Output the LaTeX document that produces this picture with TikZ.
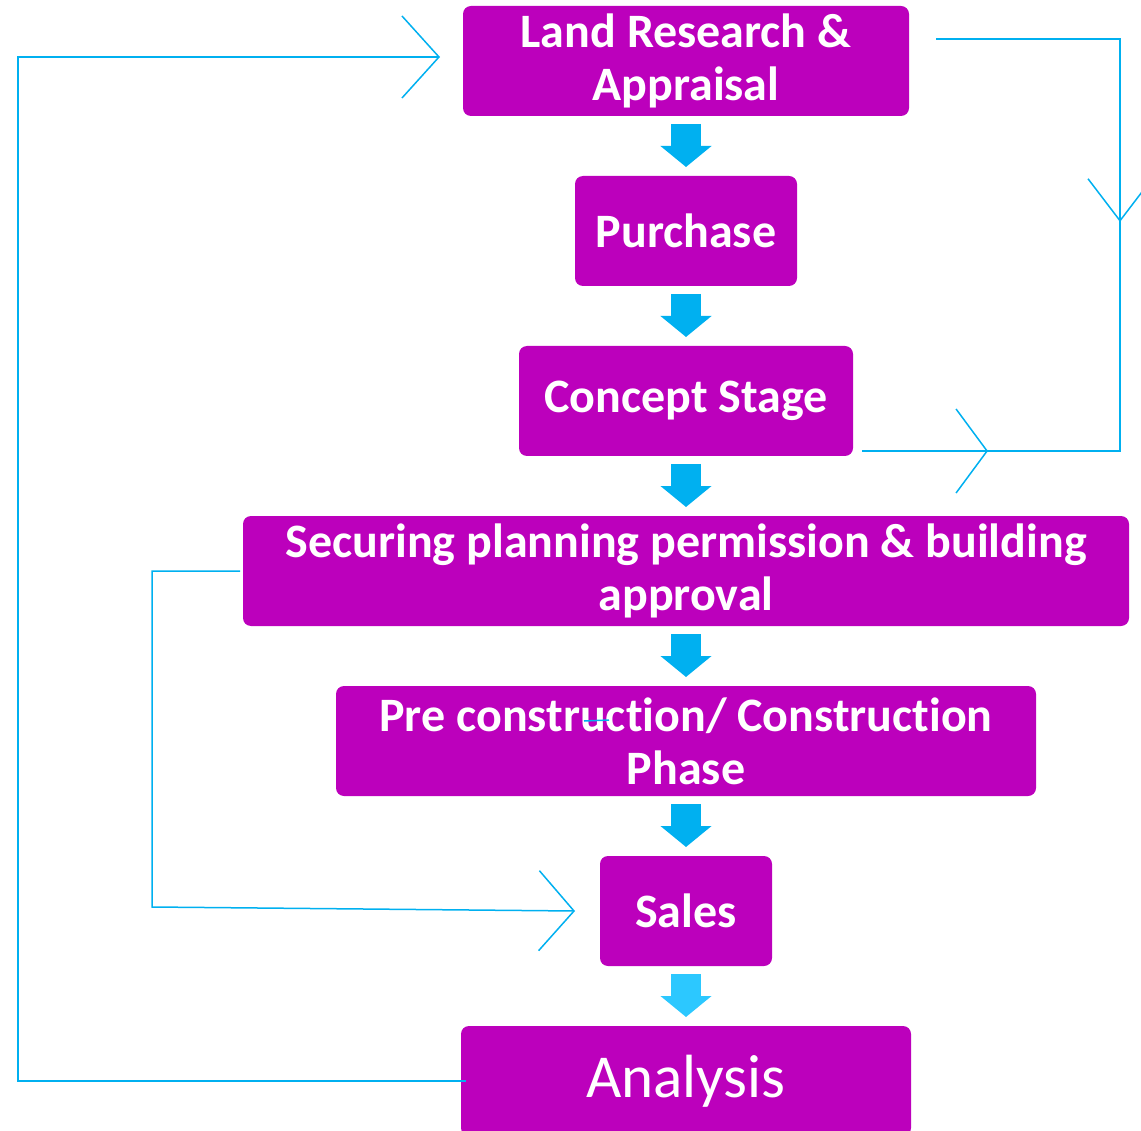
\documentclass[tikz,border=0pt]{standalone}
\usepackage{fontspec}
\setmainfont{Carlito}[Ligatures=NoCommon]
\usetikzlibrary{positioning, arrows.meta}
\definecolor{stagecol}{HTML}{BC00BC}
\definecolor{flowcol}{HTML}{00B0F0}
\definecolor{lastcol}{HTML}{2CC8FF}
\newcommand{\stagefont}{\fontsize{48}{53}\selectfont\bfseries}

\begin{document}
\begin{tikzpicture}[x=1pt, y=1pt,
    Stage/.style = {rectangle, rounded corners=8pt, fill=stagecol, text=white,
        font=\stagefont, align=center, minimum height=110pt, inner sep=0pt, outer sep=0pt},
    Flow/.style = {line width=30pt, flowcol, -{Triangle[width=50pt, length=21pt]}},
    Loop/.style = {line width=1.5pt, flowcol}]
    \path[use as bounding box, clip] (0,0) rectangle (1141,-1131);
    % stages, top to bottom
    \node[Stage, minimum width=446pt] (land) at (686,-61) {Land Research \&\\Appraisal};
    \node[Stage, minimum width=222pt, below=60pt of land] (purchase) {Purchase};
    \node[Stage, minimum width=334pt, below=60pt of purchase] (concept) {Concept Stage};
    \node[Stage, minimum width=886pt, below=60pt of concept] (securing) {Securing planning permission \& building\\approval};
    \node[Stage, minimum width=700pt, below=60pt of securing] (precon) {Pre construction/ Construction\\Phase};
    \node[Stage, minimum width=172pt, below=60pt of precon] (sales) {Sales};
    \node[Stage, minimum width=450pt, below=60pt of sales, font=\fontsize{61}{63}\selectfont] (analysis) {Analysis};
    % block arrows
    \foreach \a/\b in {land/purchase, purchase/concept, concept/securing, securing/precon, precon/sales}
        \draw[Flow] ([yshift=-8pt]\a.south) -- ([yshift=9pt]\b.north);
    \draw[Flow, lastcol] ([yshift=-8pt]sales.south) -- ([yshift=9pt]analysis.north);
    % loop on the right
    \coordinate (rstart) at (936,-39);
    \coordinate (rcorner) at (1120,-39);
    \coordinate (rmid) at (1120,-222);
    \coordinate (rlow) at (1120,-451);
    \coordinate (cstart) at (862,-451);
    \coordinate (cmid) at (988,-451);
    \draw[Loop] (rstart) -- (rcorner) -- (rlow) -- (cstart);
    \draw[Loop, -{Straight Barb[length=42pt, width=64pt]}] (rcorner) -- (rmid);
    \draw[Loop, -{Straight Barb[length=31pt, width=84pt]}] (cstart) -- (cmid);
    % loop on the left, back to the top
    \coordinate (lbot) at (18,-1081);
    \coordinate (ltop) at (18,-57);
    \draw[Loop, -{Straight Barb[length=37pt, width=82pt]}] ([xshift=5pt]analysis.west) -- (lbot) -- (ltop) -- ([xshift=-23pt, yshift=4pt]land.west);
    % loop from securing to sales
    \coordinate (sbend) at (152,-571);
    \coordinate (sbot) at (152,-907);
    \draw[Loop, -{Straight Barb[length=35pt, width=80pt]}] ([xshift=-3pt]securing.west) -- (sbend) -- (sbot) -- ([xshift=-25pt]sales.west);
    \draw[Loop] (584,-721) -- (609,-720);
\end{tikzpicture}
\end{document}
